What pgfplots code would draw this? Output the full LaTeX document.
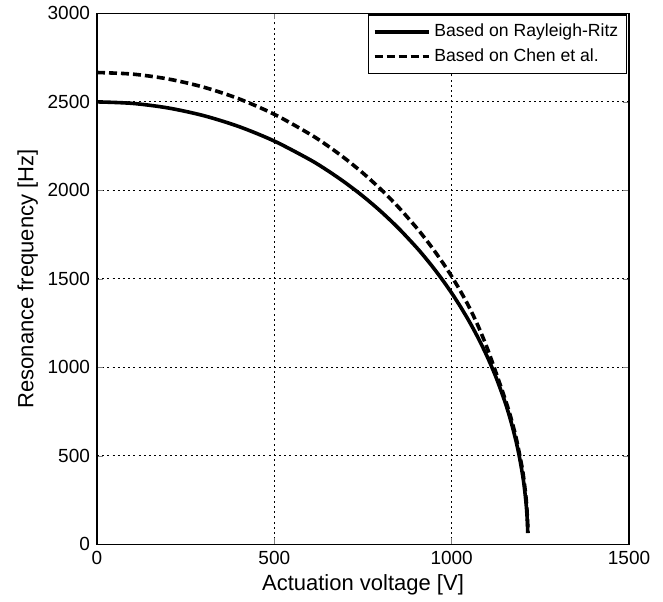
\documentclass[border=0pt]{standalone}
\usepackage{fontspec}
\setmainfont{Liberation Sans}
\usepackage{pgfplots}
\pgfplotsset{compat=1.18}

\begin{document}
\begin{tikzpicture}
\begin{axis}[
  width=266pt, height=265.5pt, scale only axis,
  xmin=0, xmax=1500, ymin=0, ymax=3000,
  xtick={0,500,1000,1500}, ytick={0,500,...,3000},
  /pgf/number format/assume math mode=true,
  /pgf/number format/set thousands separator={},
  tick label style={font=\fontsize{9.5}{11}\selectfont},
  label style={font=\fontsize{11}{13}\selectfont},
  xlabel={Actuation voltage [V]}, ylabel={Resonance frequency [Hz]},
  xlabel style={yshift=2pt}, ylabel style={yshift=-2pt},
  tick align=inside, major tick length=3pt,
  axis line style={line width=0.6pt},
  grid=major, grid style={black, line width=0.4pt, dash pattern=on 1pt off 1.6pt},
  legend style={at={(rel axis cs:0.996,0.998)}, anchor=north east,
    font=\fontsize{8.8}{10.5}\selectfont, draw=black, line width=0.6pt,
    inner xsep=2pt, inner ysep=2.5pt, row sep=0.5pt},
  legend cell align=left,
  legend image code/.code={\draw[#1] (0pt,0pt) -- (27pt,0pt);},
]
\addplot[black, line width=1.8pt, smooth] coordinates {
(0,2500) (100,2491.5) (200,2465.9) (300,2422.6) (400,2360.6) (500,2278.5)
(600,2173.9) (650,2112.2) (700,2043.4) (750,1966.9) (800,1881.6) (850,1786.4)
(900,1679.5) (925,1621.0) (950,1558.5) (975,1491.7) (1000,1419.9) (1025,1342.3)
(1050,1257.9) (1075,1165.1) (1100,1061.7) (1125,944.3) (1150,806.8) (1165,709.8)
(1180,595.8) (1190,504.5) (1200,391.6) (1205,320.1) (1210,226.7) (1213,143.4) (1214.6,64)};
\addlegendentry{Based on Rayleigh-Ritz}
\addplot[black, line width=1.8pt, dash pattern=on 4pt off 2pt, smooth] coordinates {
(0,2666) (100,2656.9) (200,2629.6) (300,2583.5) (400,2517.4) (500,2429.8)
(600,2318.2) (650,2252.5) (700,2179.1) (750,2097.5) (800,2006.5) (850,1905.0)
(900,1791.0) (925,1728.6) (950,1662.0) (975,1590.8) (1000,1514.2) (1025,1430)
(1050,1338) (1075,1232) (1100,1110) (1125,970) (1150,825) (1165,730)
(1180,617) (1190,523) (1200,418) (1205,344) (1210,257) (1213,171) (1215.5,65)};
\addlegendentry{Based on Chen et al.}
\end{axis}
\path (current axis.south west) ++(-48.5pt,-27pt) coordinate (bl);
\path (current axis.north east) ++(17pt,6.5pt) coordinate (tr);
\path (bl) (tr);
\end{tikzpicture}
\end{document}
